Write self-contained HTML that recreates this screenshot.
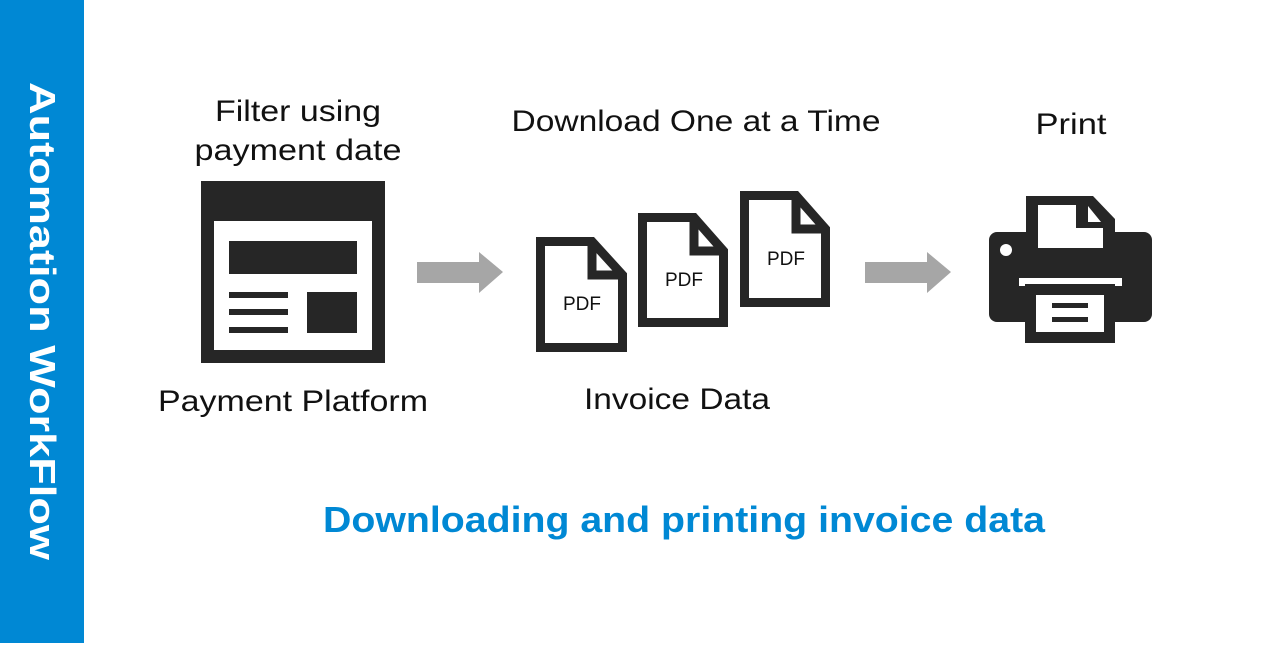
<!DOCTYPE html>
<html><head><style>
body{margin:0;width:1280px;height:643px;background:#fff;overflow:hidden}
svg text{font-family:"Liberation Sans","DejaVu Sans",sans-serif}
</style></head><body>
<svg width="1280" height="643" viewBox="0 0 1280 643">
<rect x="0" y="0" width="84" height="643" fill="#0088d4"/>
<text transform="translate(30,321) rotate(90)" text-anchor="middle" font-size="36" font-weight="bold" fill="#fff" textLength="478" lengthAdjust="spacingAndGlyphs">Automation WorkFlow</text>

<g font-size="30" fill="#111" text-anchor="middle">
<text x="298" y="121" textLength="166" lengthAdjust="spacingAndGlyphs">Filter using</text>
<text x="298" y="160" textLength="207" lengthAdjust="spacingAndGlyphs">payment date</text>
<text x="696" y="131" textLength="369" lengthAdjust="spacingAndGlyphs">Download One at a Time</text>
<text x="1071" y="134" textLength="71" lengthAdjust="spacingAndGlyphs">Print</text>
<text x="293" y="411" textLength="270" lengthAdjust="spacingAndGlyphs">Payment Platform</text>
<text x="677" y="409" textLength="186" lengthAdjust="spacingAndGlyphs">Invoice Data</text>
</g>
<text x="684" y="532" text-anchor="middle" font-size="36" font-weight="bold" fill="#0088d4" textLength="722" lengthAdjust="spacingAndGlyphs">Downloading and printing invoice data</text>

<rect x="201" y="181" width="184" height="182" fill="#262626"/>
<rect x="214" y="221" width="158" height="129" fill="#fff"/>
<rect x="229" y="241" width="128" height="33" fill="#262626"/>
<rect x="229" y="292" width="59" height="6" fill="#262626"/>
<rect x="229" y="309" width="59" height="6" fill="#262626"/>
<rect x="229" y="327" width="59" height="6" fill="#262626"/>
<rect x="307" y="292" width="50" height="41" fill="#262626"/>

<polygon points="417,262 479,262 479,252 503,272 479,293 479,283 417,283" fill="#a6a6a6"/>
<polygon points="865,262 927,262 927,252 951,272 927,293 927,283 865,283" fill="#a6a6a6"/>

<g fill="#fff" stroke="#262626" stroke-width="9" stroke-linejoin="miter">
<path d="M540.5,241.5 H592 L622.5,275 V347.5 H540.5 Z"/>
<path d="M592,241.5 V275 H622.5" fill="none"/>
<path d="M642.5,217.5 H694 L723.5,251 V322.5 H642.5 Z"/>
<path d="M694,217.5 V251 H723.5" fill="none"/>
<path d="M744.5,195.5 H796 L825.5,229 V302.5 H744.5 Z"/>
<path d="M796,195.5 V229 H825.5" fill="none"/>
</g>
<g font-size="19" fill="#111" text-anchor="middle">
<text x="582" y="310" textLength="38" lengthAdjust="spacingAndGlyphs">PDF</text>
<text x="684" y="286" textLength="38" lengthAdjust="spacingAndGlyphs">PDF</text>
<text x="786" y="265" textLength="38" lengthAdjust="spacingAndGlyphs">PDF</text>
</g>

<rect x="989" y="232" width="163" height="90" rx="8" fill="#262626"/>
<path d="M1026,196 H1093 L1115,219 V250 H1026 Z" fill="#262626"/>
<path d="M1038,205 H1076 V228 H1103 V248 H1038 Z" fill="#fff"/>
<path d="M1088,206 L1101,222 H1088 Z" fill="#fff"/>
<circle cx="1006" cy="250" r="6" fill="#fff"/>
<rect x="1019" y="278" width="103" height="8" fill="#fff"/>
<rect x="1025" y="284" width="90" height="59" fill="#262626"/>
<rect x="1036" y="295" width="68" height="37" fill="#fff"/>
<rect x="1052" y="303" width="36" height="5" fill="#262626"/>
<rect x="1052" y="317" width="36" height="5" fill="#262626"/>
</svg>
</body></html>
